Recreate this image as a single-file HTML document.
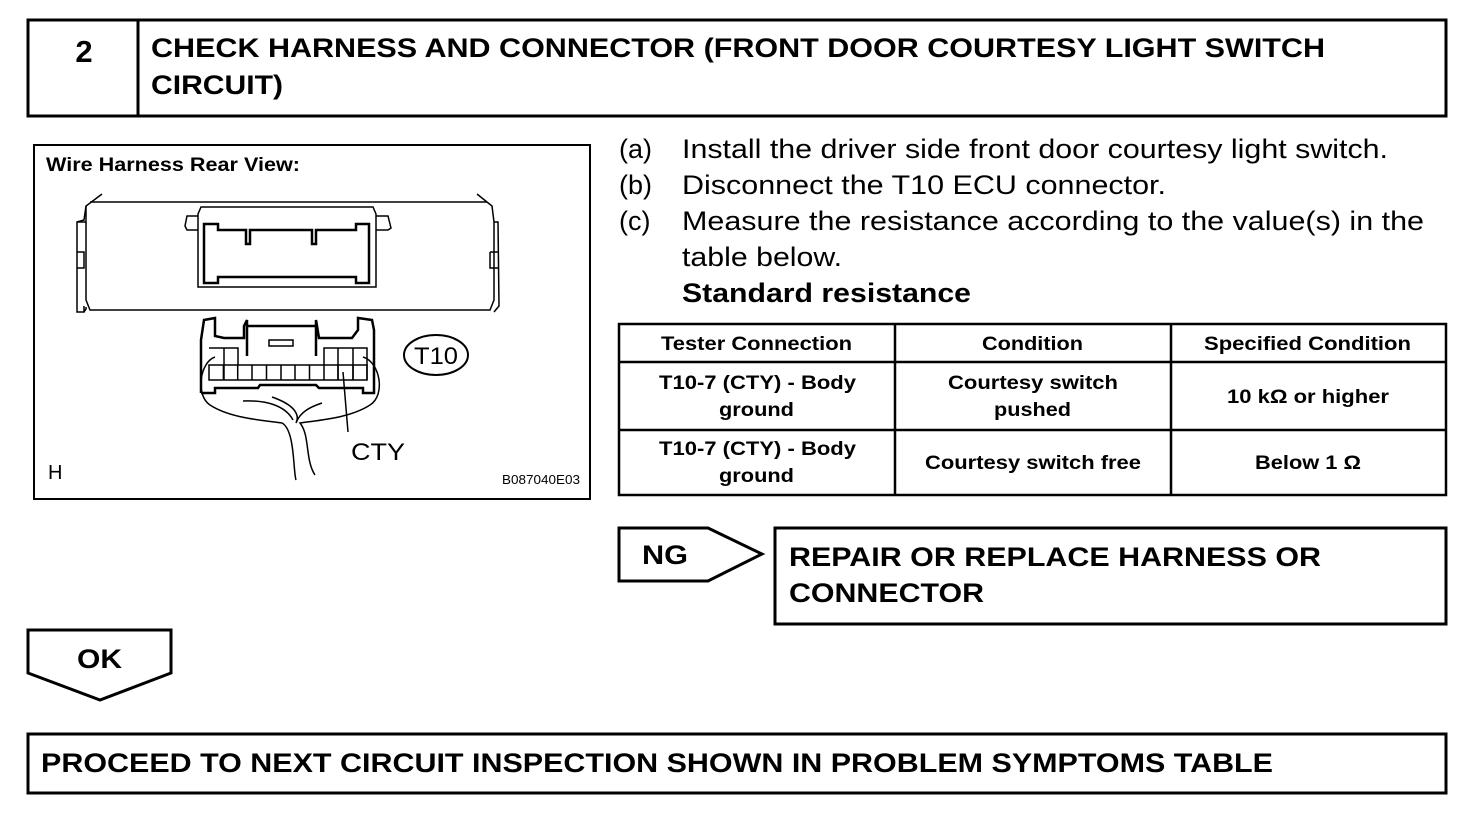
<!DOCTYPE html>
<html><head><style>
body{margin:0;background:#fff;}
svg text{font-family:"Liberation Sans",Arial,sans-serif;fill:#000;}
.b{font-weight:bold;}
</style></head><body>
<svg width="1472" height="816" viewBox="0 0 1472 816" xmlns="http://www.w3.org/2000/svg">
<g fill="none" stroke="#000" stroke-width="3">
<rect x="28" y="20" width="1418" height="96"/>
<line x1="138" y1="20" x2="138" y2="116"/>
<rect x="34" y="145" width="556" height="354" stroke-width="2"/>
<rect x="619" y="324" width="827" height="171" stroke-width="2.5"/>
<line x1="895" y1="324" x2="895" y2="495" stroke-width="2.5"/>
<line x1="1171" y1="324" x2="1171" y2="495" stroke-width="2.5"/>
<line x1="619" y1="362" x2="1446" y2="362" stroke-width="2.5"/>
<line x1="619" y1="430" x2="1446" y2="430" stroke-width="2.5"/>
<polygon points="619,528 708,528 762,554 708,581 619,581"/>
<rect x="775" y="528" width="671" height="96"/>
<polygon points="28,630 171,630 171,673 100,700 28,673"/>
<rect x="28" y="734" width="1418" height="59"/>
</g>
<!-- diagram -->
<g fill="none" stroke="#000" stroke-width="1.5">
<path d="M102,194 L86,206 L84,220 L77,222 L77,312 L84,312 L84,306 M84,312 L86,309 L86,307"/>
<path d="M86,206 L86,222 L77,222 M77,252 L84,252 L84,268 L77,268"/>
<path d="M86,222 L86,300 L90,310 L490,310 L494,300 L494,222 L498,222 L499,306 L494,312 M494,222 L492,206 L477,194"/>
<line x1="90" y1="202" x2="487" y2="202"/>
<path d="M490,252 L499,252 M490,252 L490,268 L499,268"/>
<path d="M198,287 L198,214 L201,207 L373,207 L376,214 L376,287 Z"/>
<path d="M198,216 L187,216 L185,226 L187,230 L198,230 M376,216 L388,216 L391,228 L388,230 L376,230"/>
<path d="M204,224 L218,224 L218,230 L246,230 L246,244 L250,244 L250,230 L312,230 L312,244 L316,244 L316,230 L356,230 L356,224 L369,224 L369,283 L356,283 L356,277 L218,277 L218,283 L204,283 Z" stroke-width="2.5"/>
<path d="M201,393 L201,340 L204,320 L215,318 L215,336 L224,338 L244,338 L244,326 L247,320 L247,356 M247,326 L316,326 L316,356 M316,326 L316,320 L319,338 L352,338 L358,330 L358,318 L372,320 L374,330 L374,393 L363,393 L363,388 L319,388 L316,385 L260,385 L258,388 L215,388 L215,393 L201,393" stroke-width="2.5"/>
<rect x="269" y="340" width="24" height="6"/>
<path d="M209,348 L238,348 L238,365 M224,348 L224,380 M324,365 L324,348 L367,348 L367,380 M338,348 L338,380 M353,348 L353,380"/>
<rect x="209" y="365" width="158" height="15"/>
<path d="M223.4,365v15M237.7,365v15M252,365v15M266.5,365v15M281,365v15M295,365v15M309.5,365v15M324,365v15M338,365v15M353,365v15"/>
<path d="M215,357 C200,362 195,395 210,405 C230,418 260,420 282,423 C295,430 293,470 296,480"/>
<path d="M363,357 C380,362 386,395 370,405 C350,418 320,420 300,423 C310,435 305,460 315,475"/>
<path d="M243,401 C265,400 285,405 293,420 M272,397 C295,405 300,415 296,423 M322,403 C310,407 300,412 296,423"/>
<line x1="343" y1="372" x2="348" y2="432"/>
<ellipse cx="436" cy="355" rx="32" ry="20" stroke-width="2"/>
</g>
<g lengthAdjust="spacingAndGlyphs">
<text x="46" y="171" font-size="19" class="b" textLength="254" lengthAdjust="spacingAndGlyphs">Wire Harness Rear View:</text>
<text x="414" y="364" font-size="24" textLength="44" lengthAdjust="spacingAndGlyphs">T10</text>
<text x="351" y="460" font-size="24" textLength="54" lengthAdjust="spacingAndGlyphs">CTY</text>
<text x="48" y="479" font-size="20">H</text>
<text x="502" y="484" font-size="13" textLength="78" lengthAdjust="spacingAndGlyphs">B087040E03</text>
<text x="84" y="62" font-size="31" class="b" text-anchor="middle">2</text>
<text x="151" y="57" font-size="27" class="b" textLength="1174" lengthAdjust="spacingAndGlyphs">CHECK HARNESS AND CONNECTOR (FRONT DOOR COURTESY LIGHT SWITCH</text>
<text x="151" y="94" font-size="27" class="b" textLength="132" lengthAdjust="spacingAndGlyphs">CIRCUIT)</text>
<text x="619" y="158" font-size="27">(a)</text><text x="682" y="158" font-size="27" textLength="706" lengthAdjust="spacingAndGlyphs">Install the driver side front door courtesy light switch.</text>
<text x="619" y="194" font-size="27">(b)</text><text x="682" y="194" font-size="27" textLength="484" lengthAdjust="spacingAndGlyphs">Disconnect the T10 ECU connector.</text>
<text x="619" y="230" font-size="27">(c)</text><text x="682" y="230" font-size="27" textLength="742" lengthAdjust="spacingAndGlyphs">Measure the resistance according to the value(s) in the</text>
<text x="682" y="266" font-size="27" textLength="160" lengthAdjust="spacingAndGlyphs">table below.</text>
<text x="682" y="302" font-size="27" class="b" textLength="289" lengthAdjust="spacingAndGlyphs">Standard resistance</text>
<g font-size="19" class="b">
<text x="661" y="350" textLength="191" lengthAdjust="spacingAndGlyphs">Tester Connection</text>
<text x="982" y="350" textLength="101" lengthAdjust="spacingAndGlyphs">Condition</text>
<text x="1204" y="350" textLength="207" lengthAdjust="spacingAndGlyphs">Specified Condition</text>
<text x="659" y="389" textLength="197" lengthAdjust="spacingAndGlyphs">T10-7 (CTY) - Body</text>
<text x="719" y="416" textLength="75" lengthAdjust="spacingAndGlyphs">ground</text>
<text x="948" y="389" textLength="170" lengthAdjust="spacingAndGlyphs">Courtesy switch</text>
<text x="994" y="416" textLength="77" lengthAdjust="spacingAndGlyphs">pushed</text>
<text x="1227" y="403" textLength="162" lengthAdjust="spacingAndGlyphs">10 kΩ or higher</text>
<text x="659" y="455" textLength="197" lengthAdjust="spacingAndGlyphs">T10-7 (CTY) - Body</text>
<text x="719" y="482" textLength="75" lengthAdjust="spacingAndGlyphs">ground</text>
<text x="925" y="469" textLength="216" lengthAdjust="spacingAndGlyphs">Courtesy switch free</text>
<text x="1255" y="469" textLength="106" lengthAdjust="spacingAndGlyphs">Below 1 Ω</text>
</g>
<text x="642" y="564" font-size="27" class="b" textLength="46" lengthAdjust="spacingAndGlyphs">NG</text>
<text x="789" y="566" font-size="27" class="b" textLength="532" lengthAdjust="spacingAndGlyphs">REPAIR OR REPLACE HARNESS OR</text>
<text x="789" y="602" font-size="27" class="b" textLength="195" lengthAdjust="spacingAndGlyphs">CONNECTOR</text>
<text x="77" y="668" font-size="27" class="b" textLength="45" lengthAdjust="spacingAndGlyphs">OK</text>
<text x="41" y="772" font-size="27" class="b" textLength="1232" lengthAdjust="spacingAndGlyphs">PROCEED TO NEXT CIRCUIT INSPECTION SHOWN IN PROBLEM SYMPTOMS TABLE</text>
</g>
</svg>
</body></html>
